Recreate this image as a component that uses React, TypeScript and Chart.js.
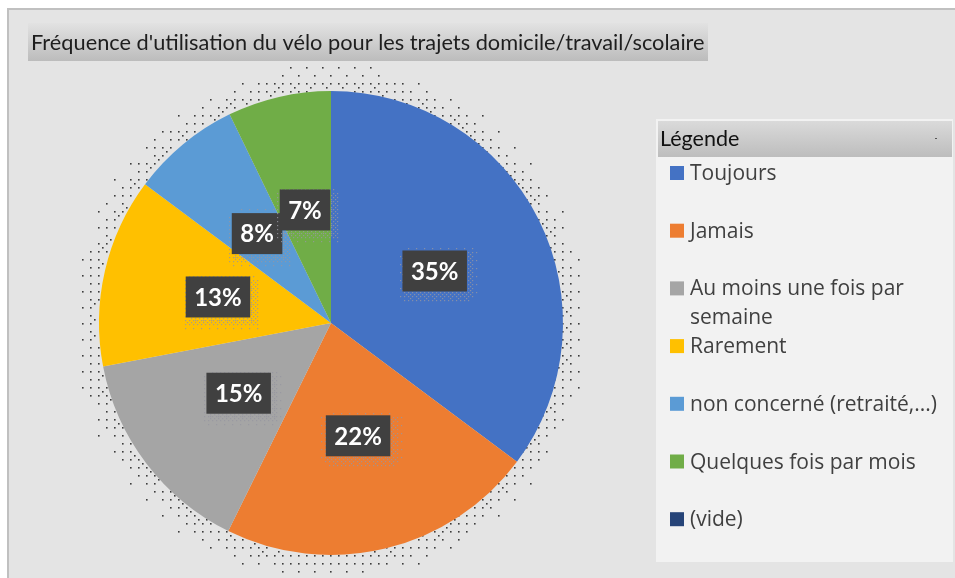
import { useEffect, useRef } from "react";
import { Chart, registerables } from "chart.js";
Chart.register(...registerables);

const TITLE = "Fréquence d'utilisation du vélo pour les trajets domicile/travail/scolaire";
const LEGEND_TITLE = "Légende";
const categories = [
  "Toujours",
  "Jamais",
  "Au moins une fois par semaine",
  "Rarement",
  "non concerné (retraité,...)",
  "Quelques fois par mois",
  "(vide)",
];
const shares = [35.2, 22.1, 14.7, 13.2, 7.6, 7.2, 0];
const colors = ["#4472c4", "#ed7d31", "#a5a5a5", "#ffc000", "#5b9bd5", "#70ad47", "#264478"];

const BAYER = [
  [0, 8, 2, 10],
  [12, 4, 14, 6],
  [3, 11, 1, 9],
  [15, 7, 13, 5],
];

function dither(
  ctx: CanvasRenderingContext2D,
  dist: (x: number, y: number) => number,
  x0: number, y0: number, x1: number, y1: number,
  step: number, maxI: number, spread: number, color: string, dot: number
) {
  ctx.save();
  ctx.fillStyle = color;
  for (let y = Math.floor(y0); y <= y1; y += step) {
    for (let x = Math.floor(x0); x <= x1; x += step) {
      const d = dist(x, y);
      if (d < 0 || d > spread) continue;
      const I = maxI * Math.pow(1 - d / spread, 1.2);
      const t = (BAYER[Math.floor(y / step) & 3][Math.floor(x / step) & 3] + 0.5) / 16;
      if (I > t) ctx.fillRect(x, y, dot, dot);
    }
  }
  ctx.restore();
}

function rectDist(x: number, y: number, l: number, t: number, r: number, b: number) {
  const dx = Math.max(l - x, 0, x - r);
  const dy = Math.max(t - y, 0, y - b);
  return Math.hypot(dx, dy);
}

const decor = {
  id: "decor",
  beforeDraw(chart: any) {
    const ctx: CanvasRenderingContext2D = chart.ctx;
    ctx.save();
    ctx.fillStyle = "#ffffff";
    ctx.fillRect(0, 0, 955, 578);
    ctx.fillStyle = "#c0c0c0";
    ctx.fillRect(7, 8, 948, 570);
    ctx.fillStyle = "#e4e4e4";
    ctx.fillRect(9, 10, 946, 568);
    const g = ctx.createLinearGradient(0, 23, 0, 61);
    g.addColorStop(0, "#e2e2e2");
    g.addColorStop(1, "#bcbcbc");
    ctx.fillStyle = g;
    ctx.fillRect(28, 23, 680, 38);
    ctx.font = "19px Lato";
    const w = ctx.measureText(TITLE).width;
    const fs = (19 * 674) / w;
    ctx.font = `${fs}px Lato`;
    ctx.fillStyle = "#1e1e1e";
    ctx.textBaseline = "alphabetic";
    ctx.fillText(TITLE, 31, 50);
    ctx.restore();
  },
  beforeDatasetsDraw(chart: any) {
    const ctx: CanvasRenderingContext2D = chart.ctx;
    const arc = chart.getDatasetMeta(0).data[0];
    const cx = arc.x - 2, cy = arc.y - 1, R = arc.outerRadius;
    dither(ctx, (x, y) => Math.hypot(x - cx, y - cy) - R,
      cx - R - 35, cy - R - 35, cx + R + 35, cy + R + 35, 4, 0.42, 30, "#3c3c3c", 1.6);
  },
  afterDatasetsDraw(chart: any) {
    const ctx: CanvasRenderingContext2D = chart.ctx;
    const meta = chart.getDatasetMeta(0);
    const data = chart.data.datasets[0].data as number[];
    const total = data.reduce((a, b) => a + b, 0);
    ctx.save();
    ctx.font = "bold 24px Lato";
    meta.data.forEach((el: any, i: number) => {
      const v = data[i];
      if (!v) return;
      const txt = Math.round((v / total) * 100) + "%";
      const p = el.tooltipPosition();
      const tw = ctx.measureText(txt).width;
      const bw = tw + 17, bh = 41;
      const l = p.x - bw / 2, t = p.y - bh / 2;
      dither(ctx, (x, y) => {
        if (x >= l && x <= l + bw && y >= t && y <= t + bh) return -1;
        return rectDist(x, y, l + 3, t + 4, l + bw + 3, t + bh + 4);
      }, l - 10, t - 10, l + bw + 14, t + bh + 14, 2, 0.55, 9, "rgba(150,150,160,0.8)", 1.2);
      ctx.fillStyle = "#404040";
      ctx.fillRect(l, t, bw, bh);
      ctx.fillStyle = "#ffffff";
      ctx.textAlign = "center";
      ctx.textBaseline = "middle";
      ctx.fillText(txt, p.x, p.y + 1);
    });
    ctx.restore();

    // legend
    ctx.save();
    ctx.fillStyle = "#f2f2f2";
    ctx.fillRect(656, 119, 297, 443);
    const g = ctx.createLinearGradient(0, 121, 0, 157);
    g.addColorStop(0, "#dadada");
    g.addColorStop(1, "#bdbdbd");
    ctx.fillStyle = g;
    ctx.fillRect(658, 121, 294, 36);
    ctx.fillStyle = "#555";
    ctx.fillRect(935, 138, 2, 1);
    ctx.font = "21.5px Lato";
    ctx.fillStyle = "#111111";
    ctx.textBaseline = "alphabetic";
    ctx.fillText(LEGEND_TITLE, 660, 146);
    ctx.font = "21px 'Open Sans'";
    const labels = chart.data.labels as string[];
    const bg = chart.data.datasets[0].backgroundColor as string[];
    labels.forEach((lab, i) => {
      const sy = 166 + i * 57.7;
      ctx.fillStyle = bg[i];
      ctx.fillRect(670, sy, 14, 14);
      ctx.fillStyle = "#404040";
      const words = lab.split(" ");
      const lines: string[] = [];
      let cur = "";
      for (const wd of words) {
        const test = cur ? cur + " " + wd : wd;
        if (cur && ctx.measureText(test).width > 258) {
          lines.push(cur);
          cur = wd;
        } else cur = test;
      }
      lines.push(cur);
      lines.forEach((ln, k) => ctx.fillText(ln, 690, sy + 14 + k * 29));
    });
    ctx.restore();
  },
};

export default function App() {
  const ref = useRef<HTMLCanvasElement>(null);
  useEffect(() => {
    if (!ref.current) return;
    const chart = new Chart(ref.current, {
      type: "pie",
      data: {
        labels: categories,
        datasets: [
          {
            data: shares,
            backgroundColor: colors,
            borderWidth: 0,
          },
        ],
      },
      options: {
        responsive: false,
        animation: false,
        layout: { padding: { left: 99, right: 392, top: 91, bottom: 23 } },
        plugins: {
          legend: { display: false },
          title: { display: false },
          tooltip: { enabled: false },
        },
      },
      plugins: [decor],
    });
    return () => chart.destroy();
  }, []);
  return (
    <div style={{ position: "absolute", left: 0, top: 0, width: 955, height: 578 }}>
      <canvas ref={ref} width={955} height={578} style={{ display: "block", width: 955, height: 578 }} />
    </div>
  );
}
